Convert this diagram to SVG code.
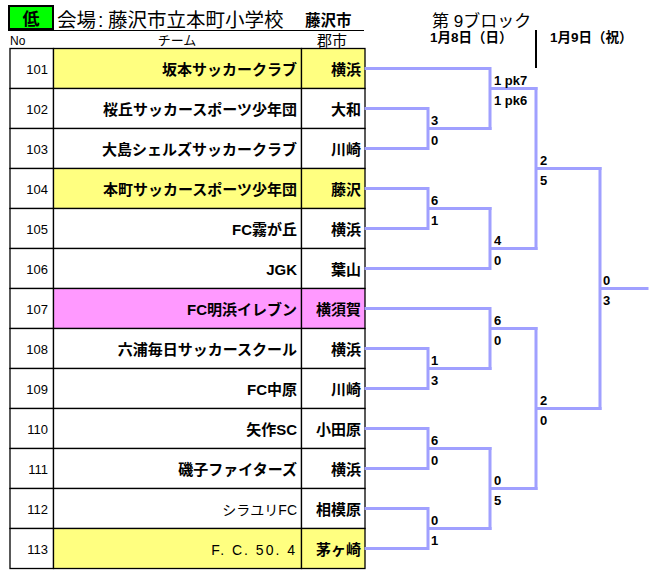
<svg xmlns="http://www.w3.org/2000/svg" width="657" height="577" viewBox="0 0 657 577">
<style>
.bg{fill:#ffffff}
.cell{fill:#ffffff;stroke:#000;stroke-width:1.3}
.y{fill:#ffff80}
.p{fill:#ff99ff}
.no{font-family:"Liberation Sans",Arial,sans-serif;font-size:13px;text-anchor:end;fill:#000}
.tm{font-family:"Liberation Sans","Noto Sans CJK JP",sans-serif;font-size:15px;font-weight:bold;text-anchor:end;fill:#000}
.tn{font-family:"Liberation Sans","Noto Sans CJK JP",sans-serif;font-size:14px;text-anchor:end;fill:#000}
.ct{font-family:"Noto Sans CJK JP",sans-serif;font-size:15px;font-weight:bold;text-anchor:end;fill:#000}
.sc{font-family:"Liberation Sans",Arial,sans-serif;font-size:13px;font-weight:bold;fill:#000}
.br{fill:none;stroke:#a0a0ff;stroke-width:3;stroke-linecap:square;stroke-linejoin:miter}
.hd{font-family:"Liberation Sans","Noto Sans CJK JP",sans-serif;fill:#000}
</style>
<rect class="bg" x="0" y="0" width="657" height="577"/>
<g id="header">
<rect x="9" y="6" width="44" height="23" fill="#00ff00" stroke="#000" stroke-width="2"/>
<text class="hd" x="31" y="24.5" font-size="17" font-weight="bold" text-anchor="middle">低</text>
<text class="hd" x="57" y="26.5" font-size="19.5">会場<tspan x="98">:</tspan><tspan x="108">藤沢市立本町小学校</tspan></text>
<text class="hd" x="305" y="26" font-size="15.5" font-weight="bold">藤沢市</text>
<line x1="8" y1="30.5" x2="364" y2="30.5" stroke="#000" stroke-width="1"/>
<text class="hd" x="10" y="45" font-size="12">No</text>
<text class="hd" x="177" y="45" font-size="13" text-anchor="middle">チーム</text>
<text class="hd" x="317" y="46" font-size="15">郡市</text>
<text class="hd" x="432" y="27" font-size="17">第 9ブロック</text>
<text class="hd" x="430" y="42" font-size="13.5" font-weight="bold">1月8日（日）</text>
<line x1="536" y1="30" x2="536" y2="68" stroke="#000" stroke-width="2"/>
<text class="hd" x="550" y="42" font-size="13.5" font-weight="bold">1月9日（祝）</text>
</g>
<g id="t101"><rect class="cell" x="10" y="48.5" width="43.5" height="40"/><rect class="cell y" x="53.5" y="48.5" width="248" height="40"/><rect class="cell y" x="301.5" y="48.5" width="63.5" height="40"/><text class="no" x="48" y="74">101</text><text class="tm" x="297" y="74.5">坂本サッカークラブ</text><text class="ct" x="361" y="74.5">横浜</text></g>
<g id="t102"><rect class="cell" x="10" y="88.5" width="43.5" height="40"/><rect class="cell" x="53.5" y="88.5" width="248" height="40"/><rect class="cell" x="301.5" y="88.5" width="63.5" height="40"/><text class="no" x="48" y="114">102</text><text class="tm" x="297" y="114.5">桜丘サッカースポーツ少年団</text><text class="ct" x="361" y="114.5">大和</text></g>
<g id="t103"><rect class="cell" x="10" y="128.5" width="43.5" height="40"/><rect class="cell" x="53.5" y="128.5" width="248" height="40"/><rect class="cell" x="301.5" y="128.5" width="63.5" height="40"/><text class="no" x="48" y="154">103</text><text class="tm" x="297" y="154.5">大島シェルズサッカークラブ</text><text class="ct" x="361" y="154.5">川崎</text></g>
<g id="t104"><rect class="cell" x="10" y="168.5" width="43.5" height="40"/><rect class="cell y" x="53.5" y="168.5" width="248" height="40"/><rect class="cell y" x="301.5" y="168.5" width="63.5" height="40"/><text class="no" x="48" y="194">104</text><text class="tm" x="297" y="194.5">本町サッカースポーツ少年団</text><text class="ct" x="361" y="194.5">藤沢</text></g>
<g id="t105"><rect class="cell" x="10" y="208.5" width="43.5" height="40"/><rect class="cell" x="53.5" y="208.5" width="248" height="40"/><rect class="cell" x="301.5" y="208.5" width="63.5" height="40"/><text class="no" x="48" y="234">105</text><text class="tm" x="297" y="234.5">FC霧が丘</text><text class="ct" x="361" y="234.5">横浜</text></g>
<g id="t106"><rect class="cell" x="10" y="248.5" width="43.5" height="40"/><rect class="cell" x="53.5" y="248.5" width="248" height="40"/><rect class="cell" x="301.5" y="248.5" width="63.5" height="40"/><text class="no" x="48" y="274">106</text><text class="tm" x="297" y="274.5">JGK</text><text class="ct" x="361" y="274.5">葉山</text></g>
<g id="t107"><rect class="cell" x="10" y="288.5" width="43.5" height="40"/><rect class="cell p" x="53.5" y="288.5" width="248" height="40"/><rect class="cell p" x="301.5" y="288.5" width="63.5" height="40"/><text class="no" x="48" y="314">107</text><text class="tm" x="297" y="314.5">FC明浜イレブン</text><text class="ct" x="361" y="314.5">横須賀</text></g>
<g id="t108"><rect class="cell" x="10" y="328.5" width="43.5" height="40"/><rect class="cell" x="53.5" y="328.5" width="248" height="40"/><rect class="cell" x="301.5" y="328.5" width="63.5" height="40"/><text class="no" x="48" y="354">108</text><text class="tm" x="297" y="354.5">六浦毎日サッカースクール</text><text class="ct" x="361" y="354.5">横浜</text></g>
<g id="t109"><rect class="cell" x="10" y="368.5" width="43.5" height="40"/><rect class="cell" x="53.5" y="368.5" width="248" height="40"/><rect class="cell" x="301.5" y="368.5" width="63.5" height="40"/><text class="no" x="48" y="394">109</text><text class="tm" x="297" y="394.5">FC中原</text><text class="ct" x="361" y="394.5">川崎</text></g>
<g id="t110"><rect class="cell" x="10" y="408.5" width="43.5" height="40"/><rect class="cell" x="53.5" y="408.5" width="248" height="40"/><rect class="cell" x="301.5" y="408.5" width="63.5" height="40"/><text class="no" x="48" y="434">110</text><text class="tm" x="297" y="434.5">矢作SC</text><text class="ct" x="361" y="434.5">小田原</text></g>
<g id="t111"><rect class="cell" x="10" y="448.5" width="43.5" height="40"/><rect class="cell" x="53.5" y="448.5" width="248" height="40"/><rect class="cell" x="301.5" y="448.5" width="63.5" height="40"/><text class="no" x="48" y="474">111</text><text class="tm" x="297" y="474.5">磯子ファイターズ</text><text class="ct" x="361" y="474.5">横浜</text></g>
<g id="t112"><rect class="cell" x="10" y="488.5" width="43.5" height="40"/><rect class="cell" x="53.5" y="488.5" width="248" height="40"/><rect class="cell" x="301.5" y="488.5" width="63.5" height="40"/><text class="no" x="48" y="514">112</text><text class="tn" x="297" y="514.5">シラユリFC</text><text class="ct" x="361" y="514.5">相模原</text></g>
<g id="t113"><rect class="cell" x="10" y="528.5" width="43.5" height="40"/><rect class="cell y" x="53.5" y="528.5" width="248" height="40"/><rect class="cell y" x="301.5" y="528.5" width="63.5" height="40"/><text class="no" x="48" y="554">113</text><text class="tn" x="297" y="554.5" letter-spacing="2">F. C. 50. 4</text><text class="ct" x="361" y="554.5">茅ヶ崎</text></g>
<g id="connectors">
<path class="br" d="M366,108.5 H428 V148.5 H366 M428,128.5 H490"/>
<path class="br" d="M366,188.5 H428 V228.5 H366 M428,208.5 H490"/>
<path class="br" d="M366,348.5 H428 V388.5 H366 M428,368.5 H490"/>
<path class="br" d="M366,428.5 H428 V468.5 H366 M428,448.5 H490"/>
<path class="br" d="M366,508.5 H428 V548.5 H366 M428,528.5 H490"/>
<path class="br" d="M366,68.5 H490 V128.5 M490,88.5 H536"/>
<path class="br" d="M490,208.5 V268.5 H366 M490,248.5 H536"/>
<path class="br" d="M366,308.5 H490 V368.5 M490,328.5 H536"/>
<path class="br" d="M490,448.5 V528.5 M490,488.5 H536"/>
<path class="br" d="M536,88.5 V248.5 M536,168.5 H600"/>
<path class="br" d="M536,328.5 V488.5 M536,408.5 H600"/>
<path class="br" d="M600,168.5 V408.5 M600,288.5 H647"/>
</g>
<g id="scores">
<text class="sc" x="431" y="124.5">3</text><text class="sc" x="431" y="144.5">0</text>
<text class="sc" x="431" y="204.5">6</text><text class="sc" x="431" y="224.5">1</text>
<text class="sc" x="431" y="364.5">1</text><text class="sc" x="431" y="384.5">3</text>
<text class="sc" x="431" y="444.5">6</text><text class="sc" x="431" y="464.5">0</text>
<text class="sc" x="431" y="524.5">0</text><text class="sc" x="431" y="544.5">1</text>
<text class="sc" x="494" y="84.5">1 pk7</text><text class="sc" x="494" y="104.5">1 pk6</text>
<text class="sc" x="494" y="244.5">4</text><text class="sc" x="494" y="264.5">0</text>
<text class="sc" x="494" y="324.5">6</text><text class="sc" x="494" y="344.5">0</text>
<text class="sc" x="494" y="484.5">0</text><text class="sc" x="494" y="504.5">5</text>
<text class="sc" x="540" y="164.5">2</text><text class="sc" x="540" y="184.5">5</text>
<text class="sc" x="540" y="404.5">2</text><text class="sc" x="540" y="424.5">0</text>
<text class="sc" x="603" y="284.5">0</text><text class="sc" x="603" y="304.5">3</text>
</g>
</svg>
